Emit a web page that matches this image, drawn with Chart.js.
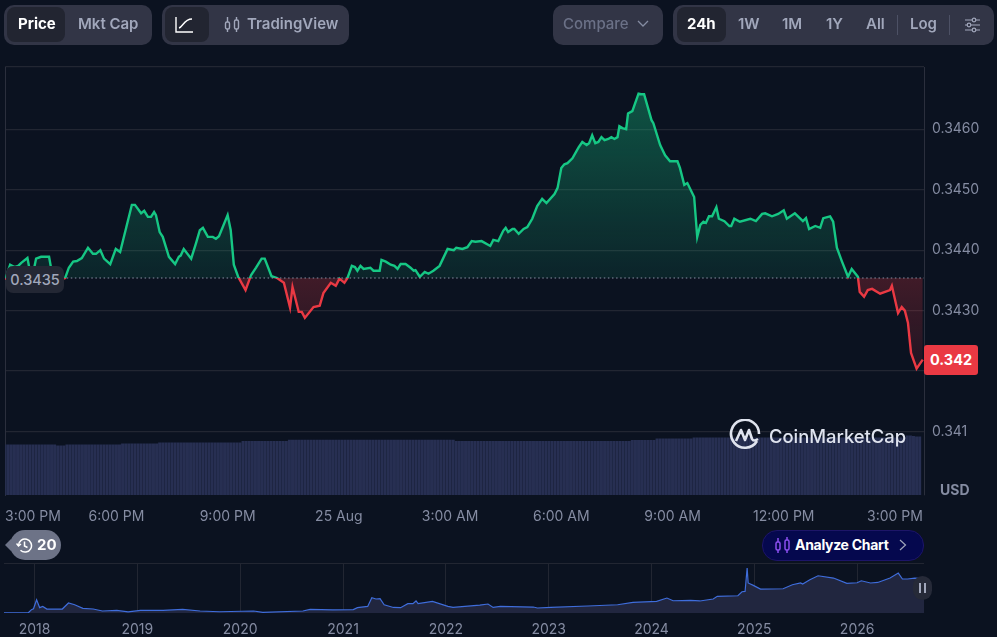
<!DOCTYPE html>
<html>
<head>
<meta charset="utf-8">
<title>Price chart</title>
<script src="https://cdn.jsdelivr.net/npm/chart.js@4/dist/chart.umd.js"></script>
<style>
  html, body { margin: 0; padding: 0; background: #0b1220; width: 997px; height: 637px; overflow: hidden; }
  body { position: relative; font-family: Inter, "Noto Sans", sans-serif; font-size: 14px; }
  canvas { position: absolute; left: 0; }
  #mainChart { top: 0; }
  #miniChart { top: 555px; }
  .box { position: absolute; top: 5px; height: 40px; background: #323546; border-radius: 10px; }
  .sel { position: absolute; top: 7px; height: 35px; background: #222531; border-radius: 8px; }
  .t { position: absolute; white-space: nowrap; line-height: 18px; font-weight: 600; font-size: 15px; color: #a1a7bb; }
  .t.on { color: #fff; font-weight: 700; }
  .sep { position: absolute; top: 15px; width: 1px; height: 20px; background: #4d5165; }
  svg { position: absolute; }
  .pill-last { position: absolute; left: 924px; top: 345px; width: 54px; height: 30px; line-height: 30px; background: #ea3943; color: #fff; border-radius: 3px; font-weight: 700; font-size: 14.5px; text-align: center; }
  .pill-open { position: absolute; left: 6px; top: 266px; width: 58px; height: 27px; line-height: 28px; background: #232734; color: #a1a7bb; border-radius: 7px; font-weight: 500; font-size: 14.5px; text-align: center; }
  .badge { position: absolute; left: 10px; top: 530px; width: 51px; height: 30px; background: #6d7387; border-radius: 15px; }
  .tip { position: absolute; left: 5px; top: 539px; border: 6px solid transparent; border-left: 0; border-right: 6px solid #6d7387; }
  .analyze { position: absolute; left: 762px; top: 530px; width: 160px; height: 29px; background: #05084e; border: 1px solid #1d1568; border-radius: 15px; }
  .pause { position: absolute; left: 913px; top: 576px; width: 19px; height: 24px; background: #262a38; border-radius: 10px; }
  .pause i { position: absolute; top: 7px; width: 2px; height: 10px; background: #a1a7bb; }
</style>
</head>
<body>
<canvas id="mainChart" width="997" height="530"></canvas>
<canvas id="miniChart" width="997" height="82"></canvas>

<!-- toolbar left -->
<div class="box" style="left:4px;width:148px"></div>
<div class="sel" style="left:7px;width:58px"></div>
<span class="t on" style="left:18px;top:15px">Price</span>
<span class="t" style="left:78px;top:15px">Mkt Cap</span>

<div class="box" style="left:162px;width:187px"></div>
<div class="sel" style="left:165px;width:44px"></div>
<svg style="left:175px;top:16px" width="18" height="17" viewBox="0 0 18 17" fill="none" stroke="#fff" stroke-width="1.4">
  <path d="M1 1V16H18"/><path d="M4 12C8 11 9 3 17 3"/>
</svg>
<svg style="left:224px;top:16px" width="17" height="17" viewBox="0 0 17 17" fill="none" stroke="#a1a7bb" stroke-width="1.4">
  <rect x="1.5" y="6" width="4" height="7" rx="1.5"/><path d="M3.5 1V6M3.5 13V16"/>
  <rect x="10.5" y="4" width="4" height="9" rx="1.5"/><path d="M12.5 1V4M12.5 13V16"/>
</svg>
<span class="t" style="left:247px;top:15px">TradingView</span>

<!-- toolbar right -->
<div class="box" style="left:553px;width:110px"></div>
<span class="t" style="left:563px;top:15px;color:#6b7187;font-weight:500">Compare</span>
<svg style="left:637px;top:20px" width="12" height="8" viewBox="0 0 12 8" fill="none" stroke="#858ca2" stroke-width="1.3"><path d="M1 1L6 6L11 1"/></svg>

<div class="box" style="left:673px;width:321px"></div>
<div class="sel" style="left:677px;width:49px"></div>
<span class="t on" style="left:687px;top:15px">24h</span>
<span class="t" style="left:738px;top:15px">1W</span>
<span class="t" style="left:782px;top:15px">1M</span>
<span class="t" style="left:826px;top:15px">1Y</span>
<span class="t" style="left:866px;top:15px">All</span>
<div class="sep" style="left:897px"></div>
<span class="t" style="left:910px;top:15px">Log</span>
<div class="sep" style="left:949px"></div>
<svg style="left:964px;top:17px" width="16" height="16" viewBox="0 0 16 16" fill="none" stroke="#a1a7bb" stroke-width="1.2">
  <path d="M1 3H16M1 8H16M1 13H16"/>
  <circle cx="10" cy="3" r="1.8" fill="#323546"/><circle cx="5" cy="8" r="1.8" fill="#323546"/><circle cx="10" cy="13" r="1.8" fill="#323546"/>
</svg>

<!-- price labels on top of the chart -->
<div class="pill-open">0.3435</div>
<div class="pill-last">0.342</div>
<span class="t" style="left:940px;top:481px;font-size:14px;color:#858ca2;font-weight:700">USD</span>

<!-- watermark -->
<svg style="left:729px;top:419px" width="32" height="32" viewBox="0 0 32 32" fill="none" stroke="#dfe3ee" stroke-width="2.6">
  <path d="M28 22A14 14 0 1 1 30 15"/><path d="M7 22L12 11L16 21L20 11L23 20C24 22 26 22 29 20" stroke-linejoin="round"/>
</svg>
<span class="t" style="left:769px;top:425px;font-size:18.4px;line-height:22px;font-weight:500;color:#dfe3ee">CoinMarketCap</span>

<!-- history badge -->
<div class="tip"></div>
<div class="badge"></div>
<svg style="left:16px;top:537px" width="17" height="17" viewBox="0 0 17 17" fill="none" stroke="#fff" stroke-width="1.5">
  <path d="M2.5 8.5A6.5 6.5 0 1 1 4.5 13.3"/><path d="M0.5 6.5L2.5 9L5 7"/><path d="M8.5 4.5V9L11.5 10.5"/>
</svg>
<span class="t on" style="left:37px;top:536px">20</span>

<!-- analyze button -->
<div class="analyze"></div>
<svg style="left:775px;top:536px" width="16" height="18" viewBox="0 0 16 18" fill="none" stroke="#8b4ff0" stroke-width="1.5">
  <rect x="1" y="6" width="4" height="8" rx="1.5"/><path d="M3 2V6M3 14V17"/>
  <rect x="10" y="4" width="4" height="10" rx="1.5"/><path d="M12 1V4M12 14V17"/>
</svg>
<span class="t on" style="left:795px;top:536px;font-size:14px;letter-spacing:-0.3px">Analyze Chart</span>
<svg style="left:899px;top:539px" width="8" height="12" viewBox="0 0 8 12" fill="none" stroke="#a1a7bb" stroke-width="1.2"><path d="M1 1L6.5 6L1 11"/></svg>

<div class="pause"><i style="left:6px"></i><i style="left:11px"></i></div>

<script>
// price series, minutes since 3:00 PM of the previous day
const priceMinutes = [
  0, 5, 8, 15, 21, 26, 36, 39, 47, 50, 58, 63, 71, 74, 86, 94, 97, 103, 110, 116,
  124, 134, 142, 147, 154, 160, 170, 179, 186, 196, 205, 210, 220, 225, 231, 236, 241, 244, 250, 255,
  265, 275, 281, 284, 289, 301, 309, 315, 320, 328, 336, 341, 346, 360, 365, 370, 377, 389, 398, 406,
  415, 420, 431, 440, 451, 461, 465, 475, 480, 485, 499, 509, 515, 527, 535, 541, 549, 554, 561, 566,
  570, 575, 580, 591, 596, 606, 609, 616, 624, 630, 635, 640, 648, 656, 661, 664, 671, 679, 685, 693,
  703, 716, 726, 730, 740, 748, 755, 761, 771, 785, 790, 798, 806, 810, 814, 821, 824, 831, 839, 845,
  853, 861, 869, 876, 889, 894, 900, 905, 910, 918, 928, 934, 941, 945, 950, 955, 960, 965, 970, 976,
  981, 986, 991, 994, 999, 1005, 1008, 1015, 1025, 1029, 1034, 1046, 1049, 1060, 1068, 1076, 1088, 1092, 1099, 1104,
  1115, 1120, 1125, 1130, 1134, 1139, 1144, 1151, 1155, 1164, 1172, 1175, 1180, 1189, 1206, 1215, 1225, 1230, 1241, 1251,
  1260, 1265, 1278, 1291, 1296, 1301, 1311, 1319, 1324, 1335, 1340, 1346, 1354, 1364, 1370, 1380, 1383, 1390, 1396, 1403,
  1416, 1432, 1435, 1445, 1451, 1456, 1461, 1466, 1475, 1485
];
const prices = [
  0.34351, 0.34367, 0.34376, 0.34372, 0.34374, 0.34379, 0.34387, 0.34371, 0.34371, 0.34386, 0.34389, 0.34389, 0.34389, 0.34372, 0.34359, 0.34353, 0.34354, 0.34371, 0.34381, 0.34382,
  0.34387, 0.34404, 0.34394, 0.34394, 0.34400, 0.34386, 0.34377, 0.34402, 0.34397, 0.34438, 0.34475, 0.34475, 0.34461, 0.34465, 0.34455, 0.34455, 0.34463, 0.34458, 0.34430, 0.34422,
  0.34389, 0.34377, 0.34389, 0.34391, 0.34402, 0.34386, 0.34412, 0.34433, 0.34437, 0.34422, 0.34422, 0.34419, 0.34423, 0.34458, 0.34433, 0.34376, 0.34356, 0.34334, 0.34359, 0.34371,
  0.34386, 0.34386, 0.34357, 0.34354, 0.34346, 0.34305, 0.34339, 0.34298, 0.34298, 0.34288, 0.34306, 0.34308, 0.34329, 0.34346, 0.34341, 0.34353, 0.34346, 0.34354, 0.34374, 0.34372,
  0.34366, 0.34374, 0.34369, 0.34371, 0.34366, 0.34366, 0.34384, 0.34381, 0.34376, 0.34374, 0.34369, 0.34377, 0.34377, 0.34371, 0.34366, 0.34367, 0.34356, 0.34364, 0.34361, 0.34366,
  0.34374, 0.34402, 0.34400, 0.34404, 0.34402, 0.34405, 0.34415, 0.34414, 0.34415, 0.34407, 0.34417, 0.34415, 0.34432, 0.34437, 0.34430, 0.34435, 0.34435, 0.34427, 0.34435, 0.34438,
  0.34452, 0.34473, 0.34485, 0.34478, 0.34493, 0.34503, 0.34536, 0.34542, 0.34544, 0.34552, 0.34570, 0.34579, 0.34574, 0.34577, 0.34590, 0.34577, 0.34579, 0.34587, 0.34582, 0.34584,
  0.34587, 0.34584, 0.34587, 0.34605, 0.34602, 0.34600, 0.34626, 0.34630, 0.34659, 0.34658, 0.34658, 0.34615, 0.34610, 0.34574, 0.34557, 0.34547, 0.34547, 0.34536, 0.34508, 0.34511,
  0.34488, 0.34422, 0.34442, 0.34447, 0.34445, 0.34456, 0.34456, 0.34471, 0.34452, 0.34448, 0.34440, 0.34440, 0.34452, 0.34447, 0.34452, 0.34448, 0.34460, 0.34461, 0.34456, 0.34460,
  0.34466, 0.34452, 0.34461, 0.34448, 0.34453, 0.34435, 0.34440, 0.34437, 0.34453, 0.34456, 0.34447, 0.34404, 0.34382, 0.34356, 0.34369, 0.34356, 0.34331, 0.34323, 0.34334, 0.34336,
  0.34328, 0.34334, 0.34341, 0.34296, 0.34306, 0.34300, 0.34280, 0.34230, 0.34204, 0.34219
];
const openPrice = 0.34354;

// volume, one bar every 5 minutes
const volumes = [
  50.5, 50.5, 50.5, 50.5, 50.5, 50.5, 50.5, 50.5, 50.5, 50.5, 50.5, 50.5, 50.5, 50.5, 50.5, 50.5, 50.5, 49.5, 49.5, 49.5,
  50.5, 50.5, 50.5, 50.5, 50.5, 50.5, 50.5, 50.5, 50.5, 50.5, 50.5, 50.5, 50.5, 50.5, 50.5, 50.5, 50.5, 50.5, 51.5, 51.5,
  51.5, 51.5, 51.5, 51.5, 51.5, 51.5, 51.5, 51.5, 51.5, 51.5, 52.5, 52.5, 52.5, 52.5, 52.5, 52.5, 52.5, 52.5, 52.5, 52.5,
  52.5, 52.5, 52.5, 52.5, 52.5, 52.5, 52.5, 52.5, 52.5, 52.5, 52.5, 52.5, 52.5, 52.5, 52.5, 52.5, 52.5, 54, 54, 54,
  54, 54, 54, 54, 54, 54, 54, 54, 54, 54, 54, 54, 55.2, 55.2, 55.2, 55.2, 55.2, 55.2, 55.2, 55.2,
  55.2, 55.2, 55.2, 55.2, 55.2, 55.2, 55.2, 55.2, 55.2, 55.2, 55.2, 55.2, 55.2, 55.2, 55.2, 55.2, 55.2, 55.2, 55.2, 55.2,
  55.2, 55.2, 55.2, 55.2, 55.2, 55.2, 55.2, 55.2, 55.2, 55.2, 55.2, 55.2, 55.2, 55.2, 55.2, 55.2, 55.2, 55.2, 55.2, 55.2,
  55.2, 55.2, 55.2, 55.2, 55.2, 55.2, 54, 54, 54, 54, 54, 54, 54, 54, 54, 54, 54, 54, 54, 54,
  54, 54, 54, 54, 54, 54, 54, 54, 54, 54, 54, 54, 54, 54, 54, 54, 54, 54, 54, 54,
  54, 54, 54, 54, 54, 54, 54, 54, 54, 54, 54, 54, 54, 54, 54, 54, 54, 54, 54, 54,
  54, 54, 54, 55, 55, 55, 55, 55, 55, 55, 55, 56.5, 56.5, 56.5, 56.5, 56.5, 56.5, 56.5, 56.5, 56.5,
  56.5, 56.5, 56.5, 57.5, 57.5, 57.5, 57.5, 57.5, 57.5, 57.5, 57.5, 57.5, 57.5, 57.5, 57.5, 57.5, 57.5, 57.5, 57.5, 57.5,
  57.5, 57.5, 57.5, 57.5, 57.5, 57.5, 57.5, 57.5, 57.5, 57.5, 57.5, 57.5, 57.5, 57.5, 57.5, 57.5, 57.5, 57.5, 57.5, 57.5,
  57.5, 57.5, 57.5, 57.5, 57.5, 57.5, 57.5, 57.5, 57.5, 57.5, 57.5, 57.5, 57.5, 57.5, 57.5, 57.5, 57.5, 57.5, 57.5, 57.5,
  57.5, 57.5, 57.5, 57.5, 57.5, 57.5, 57.5, 57.5, 57.5, 57.5, 57.5, 57.5, 59.5, 59.5, 59, 58.5, 58.5
];

// axis ticks of the main chart
const priceTicks = [0.341, 0.342, 0.343, 0.344, 0.345, 0.346, 0.34703];
const priceTickLabels = ["0.341", "0.342", "0.3430", "0.3440", "0.3450", "0.3460", ""];
const timeTicks = [45, 180, 360, 540, 720, 900, 1080, 1260, 1440];
const timeTickLabels = ["3:00 PM", "6:00 PM", "9:00 PM", "25 Aug", "3:00 AM", "6:00 AM", "9:00 AM", "12:00 PM", "3:00 PM"];

// all time overview series
const historyYears = [
  2017.70, 2017.94, 2017.97, 2017.99, 2018.02, 2018.05, 2018.08, 2018.12, 2018.27, 2018.33, 2018.39, 2018.47, 2018.57, 2018.66, 2018.80, 2018.91,
  2019.03, 2019.25, 2019.44, 2019.61, 2019.80, 2020.13, 2020.22, 2020.61, 2020.68, 2020.90, 2021.10, 2021.14, 2021.24, 2021.28, 2021.32, 2021.36,
  2021.40, 2021.49, 2021.56, 2021.63, 2021.68, 2021.71, 2021.73, 2021.87, 2022.02, 2022.07, 2022.33, 2022.41, 2022.46, 2022.53, 2022.85, 2022.89,
  2023.02, 2023.38, 2023.67, 2023.82, 2024.05, 2024.15, 2024.21, 2024.38, 2024.47, 2024.60, 2024.64, 2024.84, 2024.88, 2024.91, 2024.93, 2024.94,
  2024.99, 2025.06, 2025.28, 2025.37, 2025.45, 2025.47, 2025.54, 2025.62, 2025.77, 2025.90, 2026.00, 2026.04, 2026.13, 2026.20, 2026.32, 2026.40,
  2026.44, 2026.49, 2026.56, 2026.65
];
const historyPrices = [
  0.002, 0.002, 0.032, 0.041, 0.127, 0.051, 0.063, 0.038, 0.038, 0.096, 0.079, 0.044, 0.038, 0.019, 0.025, 0.010,
  0.025, 0.025, 0.034, 0.019, 0.012, 0.019, 0.006, 0.019, 0.034, 0.029, 0.032, 0.051, 0.063, 0.146, 0.134, 0.137,
  0.079, 0.053, 0.051, 0.089, 0.089, 0.115, 0.089, 0.111, 0.063, 0.053, 0.076, 0.086, 0.053, 0.063, 0.057, 0.048,
  0.053, 0.067, 0.079, 0.101, 0.111, 0.143, 0.117, 0.120, 0.115, 0.134, 0.159, 0.165, 0.203, 0.206, 0.430, 0.287,
  0.264, 0.229, 0.232, 0.270, 0.287, 0.277, 0.318, 0.356, 0.334, 0.283, 0.289, 0.308, 0.287, 0.292, 0.334, 0.382,
  0.325, 0.325, 0.334, 0.328
];
const yearTicks = [2018, 2019, 2020, 2021, 2022, 2023, 2024, 2025, 2026];

const tickColor = "#858ca2";
const gridColor = "#222632";

function priceStroke(context) {
  const chart = context.chart;
  if (!chart.chartArea) return "#16c784";
  const top = chart.chartArea.top, bottom = chart.chartArea.bottom;
  const stop = (chart.scales.y.getPixelForValue(openPrice) - top) / (bottom - top);
  const g = chart.ctx.createLinearGradient(0, top, 0, bottom);
  g.addColorStop(0, "#16c784");
  g.addColorStop(stop, "#16c784");
  g.addColorStop(stop, "#ea3943");
  g.addColorStop(1, "#ea3943");
  return g;
}

function priceFill(context) {
  const chart = context.chart;
  if (!chart.chartArea) return "rgba(0,0,0,0)";
  const y = chart.scales.y;
  const top = y.getPixelForValue(Math.max(...prices));
  const bottom = y.getPixelForValue(Math.min(...prices));
  const stop = (y.getPixelForValue(openPrice) - top) / (bottom - top);
  const g = chart.ctx.createLinearGradient(0, top, 0, bottom);
  g.addColorStop(0, "rgba(22,199,132,0.36)");
  g.addColorStop(stop, "rgba(22,199,132,0.10)");
  g.addColorStop(stop, "rgba(234,57,67,0.24)");
  g.addColorStop(1, "rgba(234,57,67,0.10)");
  return g;
}

new Chart(document.getElementById("mainChart"), {
  type: "line",
  data: {
    datasets: [
      {
        label: "Price",
        data: priceMinutes.map((m, i) => ({ x: m, y: prices[i] })),
        borderColor: priceStroke,
        backgroundColor: priceFill,
        borderWidth: 2.4,
        pointRadius: 0,
        tension: 0,
        fill: { target: { value: openPrice } },
        order: 1,
      },
      {
        label: "Open",
        data: [{ x: 0, y: openPrice }, { x: 1487, y: openPrice }],
        borderColor: "#8a90a3",
        borderWidth: 1.2,
        borderDash: [1.5, 2.6],
        pointRadius: 0,
        order: 0,
      },
      {
        type: "bar",
        label: "Volume",
        data: volumes.map((v, i) => ({ x: i * 5, y: v })),
        yAxisID: "yVol",
        backgroundColor: "#272f52",
        barPercentage: 0.97,
        categoryPercentage: 1,
        order: 2,
      },
    ],
  },
  options: {
    responsive: false,
    animation: false,
    events: [],
    layout: { padding: { left: 2, top: 67, right: 0, bottom: 0 } },
    plugins: { legend: { display: false }, tooltip: { enabled: false } },
    scales: {
      x: {
        type: "linear",
        offset: false,
        min: 0,
        max: 1487,
        afterBuildTicks: (axis) => { axis.ticks = timeTicks.map((value) => ({ value })); },
        afterFit: (axis) => { axis.height = 35; },
        grid: { display: false, offset: false },
        border: { display: false },
        ticks: {
          autoSkip: false,
          maxRotation: 0,
          padding: 5,
          color: tickColor,
          font: { family: "Inter", size: 14 },
          callback: (value, i) => timeTickLabels[i],
        },
      },
      y: {
        position: "right",
        min: 0.33995,
        max: 0.34703,
        afterBuildTicks: (axis) => { axis.ticks = priceTicks.map((value) => ({ value })); },
        afterFit: (axis) => { axis.width = 73; },
        grid: { color: gridColor, lineWidth: 1.3, drawTicks: false },
        border: { color: "#2b2f3d" },
        ticks: {
          padding: 8,
          color: tickColor,
          font: { family: "Inter", size: 14 },
          callback: (value, i) => priceTickLabels[i],
        },
      },
      yVol: {
        position: "left",
        min: 0,
        max: 428,
        afterFit: (axis) => { axis.width = 0; },
        grid: { display: false, drawTicks: false },
        border: { color: "#2b2f3d" },
        ticks: { display: false },
      },
    },
  },
});

new Chart(document.getElementById("miniChart"), {
  type: "line",
  data: {
    datasets: [{
      label: "All time",
      data: historyYears.map((t, i) => ({ x: t, y: historyPrices[i] })),
      borderColor: "#3f6ddb",
      backgroundColor: "#21263f",
      borderWidth: 1.2,
      pointRadius: 0,
      tension: 0,
      fill: "origin",
    }],
  },
  options: {
    responsive: false,
    animation: false,
    events: [],
    layout: { padding: { left: 4, top: 8, right: 73, bottom: 0 } },
    plugins: { legend: { display: false }, tooltip: { enabled: false } },
    scales: {
      x: {
        type: "linear",
        min: 2017.703,
        max: 2026.65,
        afterBuildTicks: (axis) => { axis.ticks = yearTicks.map((value) => ({ value })); },
        afterFit: (axis) => { axis.height = 24; },
        grid: { color: gridColor, lineWidth: 1, drawTicks: false },
        border: { display: false },
        ticks: {
          autoSkip: false,
          maxRotation: 0,
          padding: 8,
          color: tickColor,
          font: { family: "Inter", size: 14 },
          callback: (value) => String(value),
        },
      },
      y: {
        min: 0,
        max: 0.478,
        afterBuildTicks: (axis) => { axis.ticks = [{ value: 0.478 }]; },
        afterFit: (axis) => { axis.width = 0; },
        grid: { color: gridColor, lineWidth: 1, drawTicks: false },
        border: { display: false },
        ticks: { display: false },
      },
    },
  },
});
</script>
</body>
</html>
